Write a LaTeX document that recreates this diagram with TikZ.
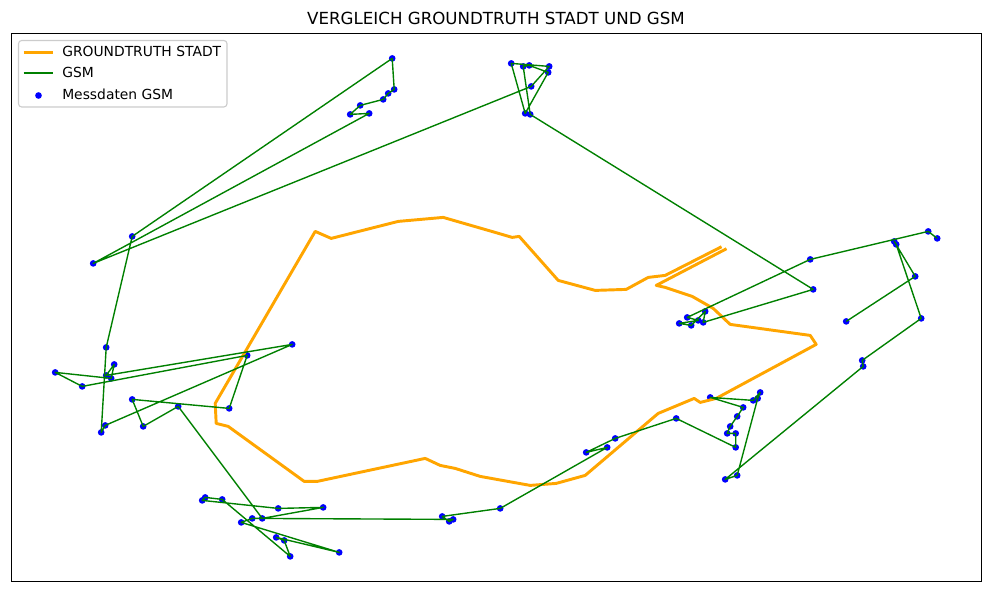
\documentclass[tikz,border=0pt]{standalone}
\usepackage{fontspec}
\setmainfont{DejaVu Sans}
\tikzset{
  px/.style={x=0.75pt,y=-0.75pt},
  truth/.style={draw=orange1,line width=2.2pt,line join=round,line cap=rect},
  gsm/.style={draw=green1,line width=1.04pt,line join=round},
  dot/.style={circle,fill=blue1,draw=none,inner sep=0pt,minimum size=5pt},
  lab/.style={anchor=base west,font=\fontsize{10.4}{12}\selectfont,text=black,inner sep=0pt},
  axframe/.style={draw=black,line width=0.83pt},
  legframe/.style={draw=gray1,line width=0.83pt,rounded corners=2.4pt,fill=white}
}
\definecolor{orange1}{HTML}{FFA500}
\definecolor{green1}{HTML}{008000}
\definecolor{blue1}{HTML}{0000FF}
\definecolor{gray1}{HTML}{CCCCCC}
\begin{document}
\begin{tikzpicture}[px]
\useasboundingbox (0,0) rectangle (986,592);
\node[font=\fontsize{12.5}{14}\selectfont,anchor=base,inner sep=0pt] (title) at (496,24.5) {VERGLEICH GROUNDTRUTH STADT UND GSM};
\begin{scope}[shift={(0.2,0.4)}]
\foreach \i/\x/\y in {1/846/321,2/915/276,3/894/241,4/896/244,5/921/318,6/862/360,7/863/366,8/725/479,9/737/475,10/757.5/398,11/760/392,12/753/400,13/710/397,14/743/407,15/737/416,16/730/426,17/727/433,18/735.5/433,19/735.5/447,20/676/418,21/615/438,22/586/452,23/607/447,24/500/508,25/442/516,26/449/521,27/453/519,28/252/518,29/241/522,30/339/552,31/276/537,32/284/540,33/290/556,34/222/499,35/205/497,36/202/500,37/278/508,38/323/507,39/262/518,40/178/406,41/143/426,42/132/399,43/229/408,44/247/355,45/82/386,46/55/372,47/111/378,48/114/364,49/106/375,50/292/344,51/105/425,52/101/432,53/106/347,54/132/236,55/392/58,56/394/89,57/388/93,58/383/99,59/360/105,60/350/114,61/369/113,62/93/263,63/531/86,64/549/66,65/511/63,66/525/113,67/548/72,68/529/65,69/523/66,70/530/114,71/813/289,72/703/322,73/705/311,74/691/325,75/679/323,76/698/320,77/687/317,78/810/259,79/928/231,80/937/238}
  \node[dot] (g\i) at (\x,\y) {};
\draw[truth] (725,249) -- (656,285) -- (665,287) -- (692,296) -- (713,308) -- (730,324) -- (810,335) -- (816,344) -- (716,398) -- (700,402) -- (694,398) -- (658,413) -- (585,475) -- (556,483) -- (530,485) -- (480,476) -- (455,468) -- (440,465) -- (425,458) -- (317,481) -- (304,481) -- (228,426) -- (216,423) -- (215,403) -- (315,231) -- (331,238) -- (398,221) -- (443,217) -- (495,232) -- (512,237) -- (519,236) -- (558,280) -- (595,290) -- (626,289) -- (648,277) -- (665,275) -- (720,247);
\draw[gsm] (g1.center) -- (g2.center) -- (g3.center) -- (g4.center) -- (g5.center) -- (g6.center) -- (g7.center) -- (g8.center) -- (g9.center) -- (g10.center) -- (g11.center) -- (g12.center) -- (g13.center) -- (g14.center) -- (g15.center) -- (g16.center) -- (g17.center) -- (g18.center) -- (g19.center) -- (g20.center) -- (g21.center) -- (g22.center) -- (g23.center) -- (g24.center) -- (g25.center) -- (g26.center) -- (g27.center) -- (g28.center) -- (g29.center) -- (g30.center) -- (g31.center) -- (g32.center) -- (g33.center) -- (g34.center) -- (g35.center) -- (g36.center) -- (g37.center) -- (g38.center) -- (g39.center) -- (g40.center) -- (g41.center) -- (g42.center) -- (g43.center) -- (g44.center) -- (g45.center) -- (g46.center) -- (g47.center) -- (g48.center) -- (g49.center) -- (g50.center) -- (g51.center) -- (g52.center) -- (g53.center) -- (g54.center) -- (g55.center) -- (g56.center) -- (g57.center) -- (g58.center) -- (g59.center) -- (g60.center) -- (g61.center) -- (g62.center) -- (g63.center) -- (g64.center) -- (g65.center) -- (g66.center) -- (g67.center) -- (g68.center) -- (g69.center) -- (g70.center) -- (g71.center) -- (g72.center) -- (g73.center) -- (g74.center) -- (g75.center) -- (g76.center) -- (g77.center) -- (g78.center) -- (g79.center) -- (g80.center);
\end{scope}
\draw[axframe] (11.5,33.5) rectangle (981.5,581.5);
\draw[legframe] (18.5,40.5) rectangle (227,107);
\coordinate (la) at (23.5,52.3);
\coordinate (lb) at (53,52.3);
\coordinate (lc) at (23.5,73);
\coordinate (ld) at (53,73);
\draw[truth,line cap=butt] (la) -- (lb);
\draw[gsm] (lc) -- (ld);
\node[dot] (ldot) at (38.5,95.5) {};
\node[lab] (t1) at (62,57) {GROUNDTRUTH STADT};
\node[lab] (t2) at (62,78) {GSM};
\node[lab] (t3) at (62,99) {Messdaten GSM};
\end{tikzpicture}
\end{document}
